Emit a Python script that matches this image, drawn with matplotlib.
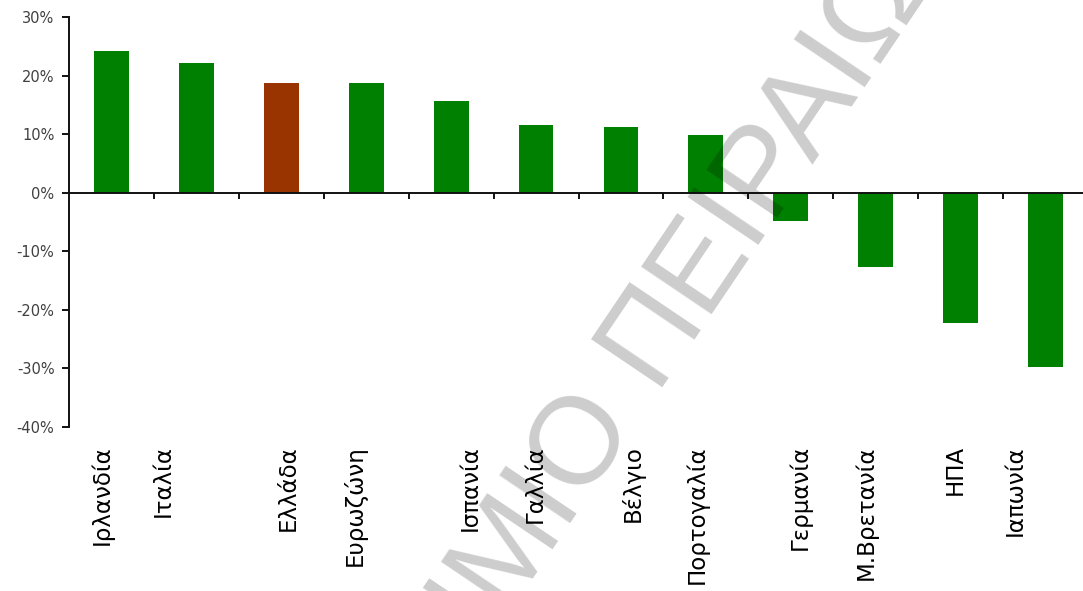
import matplotlib.pyplot as plt
import numpy as np

# data
countries = ['Ιρλανδία', 'Ιταλία', 'Ελλάδα', 'Ευρωζώνη', 'Ισπανία', 'Γαλλία',
             'Βέλγιο', 'Πορτογαλία', 'Γερμανία', 'Μ.Βρετανία', 'ΗΠΑ', 'Ιαπωνία']
values = [24.2, 22.2, 18.7, 18.7, 15.7, 11.6, 11.2, 9.9, -4.8, -12.6, -22.2, -29.7]
highlight = 'Ελλάδα'

# small shifts of the category labels (in category units), as in the original
label_shift = [-0.11, -0.39, 0.08, -0.13, 0.22, -0.01, 0.14, -0.10, 0.11, -0.12, -0.06, -0.36]

GREEN = '#008000'
BROWN = '#993300'

fig = plt.figure(figsize=(10.83, 5.91), dpi=100)
ax = fig.add_axes([69 / 1083, 1 - 427 / 591, 1019 / 1083, 410 / 591])

x = np.arange(len(countries))
colors = [BROWN if c == highlight else GREEN for c in countries]
ax.bar(x, values, width=0.41, color=colors, zorder=2)

ax.set_xlim(-0.5, len(countries) - 0.5)
ax.set_ylim(-40, 30)
ax.set_yticks(np.arange(-40, 31, 10))
ax.set_yticklabels([f'{v}%' for v in range(-40, 31, 10)])

# axes look
for side in ['top', 'right']:
    ax.spines[side].set_visible(False)
ax.spines['bottom'].set_position(('data', 0))
ax.spines['left'].set_linewidth(1.4)
ax.spines['bottom'].set_linewidth(1.4)
ax.spines['left'].set_color('#111111')
ax.spines['bottom'].set_color('#111111')

ax.set_xticks(np.arange(0.5, len(countries), 1.0))
ax.set_xticklabels([])
ax.tick_params(axis='x', direction='out', length=4, width=1.4, color='#111111')
ax.tick_params(axis='y', direction='out', length=5, width=1.4, color='#111111',
               pad=5.5, labelsize=10.5, labelcolor='#404040')

# category labels under the plot area
for i, name in enumerate(countries):
    ax.text(i + label_shift[i], -0.044, name, transform=ax.get_xaxis_transform(),
            rotation=90, ha='center', va='top', fontsize=16.5, color='black')

# watermark
wm = dict(rotation=56, rotation_mode='anchor', va='baseline', fontsize=89,
          family='Liberation Sans', color='black', alpha=0.2, zorder=10)
fig.text(0.5850, 0.2980, 'ΠΑΝΕΠΙΣΤΗΜΙΟ', ha='right', **wm)
fig.text(0.6027, 0.3462, 'ΠΕΙΡΑΙΩΣ', ha='left', **wm)

fig.savefig('out.png', dpi=100)
